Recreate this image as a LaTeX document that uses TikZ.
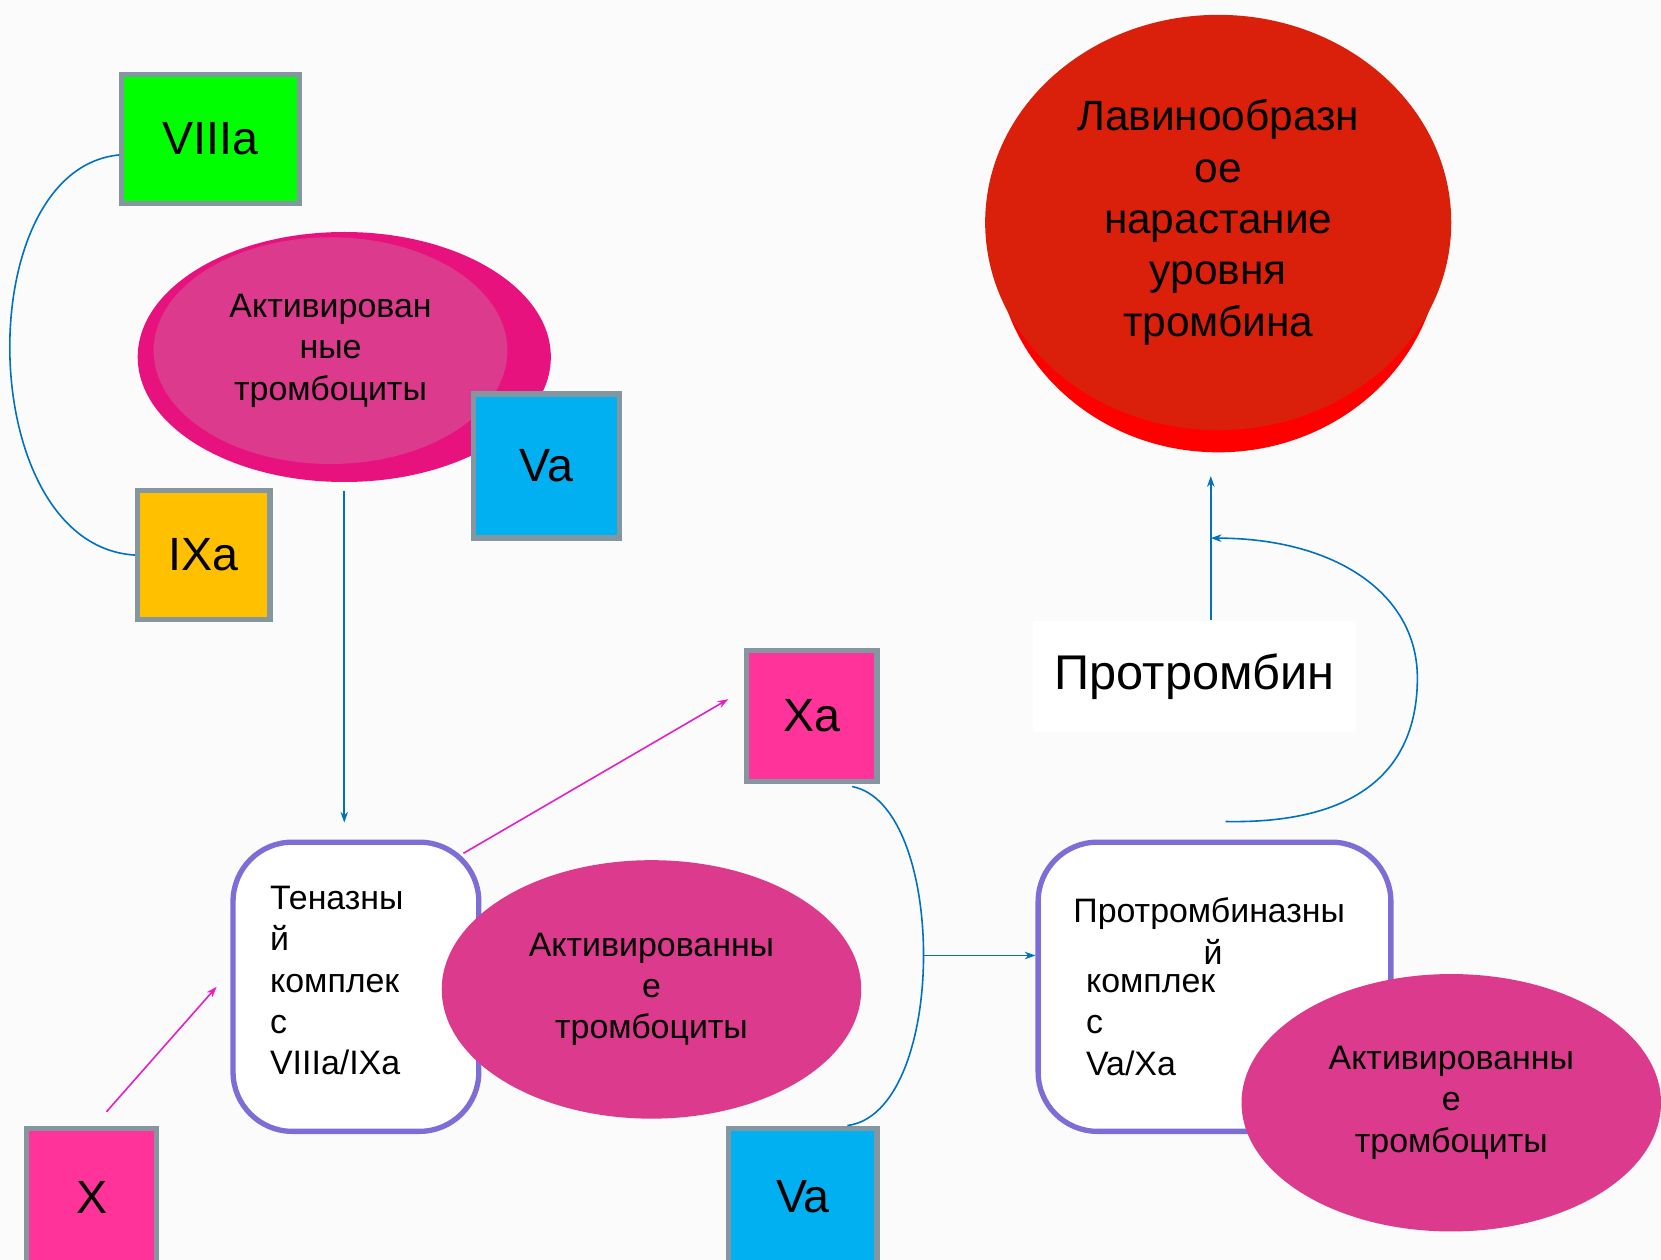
\documentclass[tikz,border=0pt]{standalone}
\usepackage{fontspec}
\setmainfont{Liberation Sans}
\usetikzlibrary{shapes.geometric,calc,arrows.meta}
\definecolor{bgwhite}{RGB}{250,251,250}
\definecolor{boxgray}{RGB}{132,151,160}
\definecolor{vgreen}{RGB}{0,255,0}
\definecolor{vblue}{RGB}{0,176,240}
\definecolor{vorange}{RGB}{255,192,0}
\definecolor{vpink}{RGB}{255,51,153}
\definecolor{plpink}{RGB}{220,58,140}
\definecolor{pldark}{RGB}{232,18,126}
\definecolor{thrred}{RGB}{218,31,11}
\definecolor{thrlow}{RGB}{255,0,0}
\definecolor{cplxline}{RGB}{125,110,215}
\definecolor{connblue}{RGB}{0,112,192}
\definecolor{arrmag}{RGB}{230,30,200}

\begin{document}
\begin{tikzpicture}[x=0.5pt,y=-0.5pt,
    factor/.style={draw=boxgray,line width=2.5pt,inner sep=0pt,font=\fontsize{22}{26}\selectfont},
    platelet/.style={ellipse,fill=plpink,inner sep=0pt,align=center,font=\fontsize{16}{19.5}\selectfont},
    cplx/.style={draw=cplxline,line width=2.5pt,rounded corners=28pt,fill=white,font=\fontsize{16}{19.5}\selectfont},
    conn/.style={connblue,line width=0.75pt},
    mag/.style={arrmag,line width=0.75pt},
    >={Stealth[length=5pt,width=3.5pt,inset=1.5pt]}]
                \useasboundingbox (0,0) rectangle (1568,1189);
                \clip (0,0) rectangle (1568,1189);
                \fill[bgwhite] (0,0) rectangle (1568,1189);

                \node[factor,fill=vgreen,minimum width=84pt,minimum height=61pt] (viiia) at (199,131) {VIIIa};
                \node[ellipse,fill=pldark,inner sep=0pt,minimum width=195pt,minimum height=118pt] (plt1) at (325,337) {};
                \node[platelet,minimum width=167pt,minimum height=107pt] (plt1in) at (312,331) {Активирован\\ные\\тромбоциты};
                \node[factor,fill=vblue,minimum width=69pt,minimum height=68pt] (vatop) at (516,440) {Va};
                \node[factor,fill=vorange,minimum width=62.5pt,minimum height=61pt] (ixa) at (192.5,524) {IXa};

                \node[cplx,text width=81pt,inner xsep=17.5pt,minimum height=136.5pt,align=left] (tenase) at (336,931.5) {Теназны\\й\\комплек\\с\\VIIIa/IXa\\[-13.5pt]\mbox{}};
                \node[platelet,minimum width=198pt,minimum height=122pt] (plt2) at (615,934) {Активированны\\е\\тромбоциты};
                \node[factor,fill=vpink,minimum width=61.5pt,minimum height=62pt] (xa) at (766.5,676) {Xa};
                \node[factor,fill=vpink,minimum width=61.5pt,minimum height=65pt] (x) at (86.5,1130) {X};
                \node[factor,fill=vblue,minimum width=70pt,minimum height=65pt] (vabot) at (758,1130) {Va};

                \node[cplx,minimum width=166.5pt,minimum height=136.5pt,inner sep=0pt,align=left] (prothr) at (1146.5,931.5) {Протромбиназны\hspace*{5pt}\\\hspace*{61.5pt}й\\[-6pt]\hspace*{6pt}комплек\\\hspace*{6pt}с\\\hspace*{6pt}Va/Xa};
                \node[platelet,minimum width=198pt,minimum height=121.5pt] (plt3) at (1370,1041) {Активированны\\е\\тромбоциты};

                \node[fill=white,minimum width=152.5pt,minimum height=52.5pt,font=\fontsize{23}{28}\selectfont] (protr) at (1127.5,638.5) {Протромбин};
                \node[ellipse,fill=thrlow,inner sep=0pt,minimum width=210pt,minimum height=197pt] (redlow) at (1150,230) {};
                \node[ellipse,fill=thrred,inner sep=0pt,minimum width=220pt,minimum height=196pt,align=center,font=\fontsize{20}{24.25}\selectfont] (red) at (1150,210) {Лавинообразн\\ое\\нарастание\\уровня\\тромбина};

                \coordinate (joint) at (872,902);
                \coordinate (merge) at (1143,508);
                \coordinate (loop) at ([xshift=5.25pt,yshift=8.5pt]prothr.north);

                \draw[conn] (viiia.190) .. controls (-30,160) and (-25,515) .. (ixa.west);
                \draw[conn,->,shorten <=4pt,shorten >=8pt] (plt1.south) -- (plt1.south |- tenase.north);
                \draw[mag,->] ($(tenase.north east)+(-17,13)$) -- ($(xa.west)+(-15,-16)$);
                \draw[mag,->] ($(x.north)+(14,-13)$) -- ($(tenase.west)+(-13,0)$);
                \draw[conn] ($(xa.south)+(38,2)$) .. controls (895,760) and (895,1050) .. ($(vabot.north)+(42,0)$);
                \draw[conn,->] (joint) -- (joint -| prothr.west);
                \draw[conn,->,shorten >=11pt] ([xshift=7.75pt]protr.north) -- ([xshift=7.75pt]protr.north |- redlow.south);
                \draw[conn,->] (loop) .. controls (1290,778) and (1338,720) .. (1338,640) .. controls (1338,560) and (1260,508) .. (merge);
            \end{tikzpicture}
\end{document}
